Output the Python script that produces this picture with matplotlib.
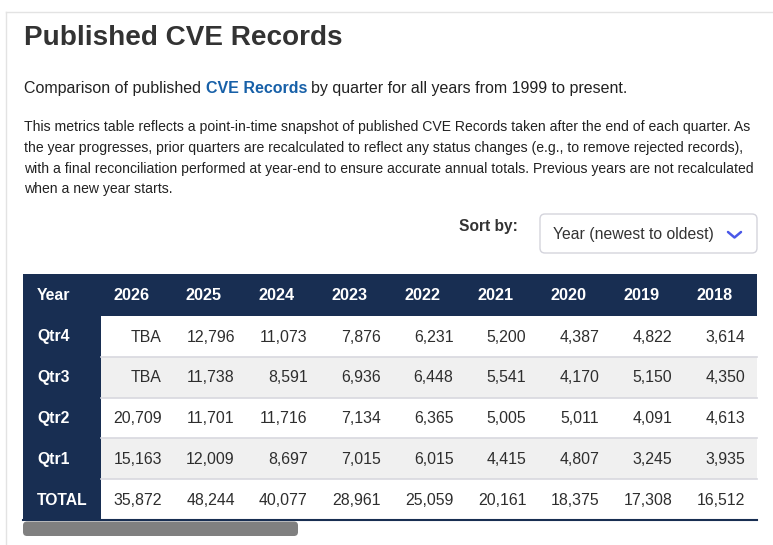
import matplotlib
matplotlib.use("Agg")
import matplotlib.pyplot as plt
from matplotlib.patches import Rectangle, FancyBboxPatch
from matplotlib.lines import Line2D

plt.rcParams['font.family'] = ['Liberation Sans', 'DejaVu Sans']

# ---------------- data ----------------
title = "Published CVE Records"
years = ['2026', '2025', '2024', '2023', '2022', '2021', '2020', '2019', '2018']
row_labels = ['Qtr4', 'Qtr3', 'Qtr2', 'Qtr1', 'TOTAL']
qtr4 = [None, 12796, 11073, 7876, 6231, 5200, 4387, 4822, 3614]
qtr3 = [None, 11738, 8591, 6936, 6448, 5541, 4170, 5150, 4350]
qtr2 = [20709, 11701, 11716, 7134, 6365, 5005, 5011, 4091, 4613]
qtr1 = [15163, 12009, 8697, 7015, 6015, 4415, 4807, 3245, 3935]
total = [35872, 48244, 40077, 28961, 25059, 20161, 18375, 17308, 16512]
para_lines = [
    "This metrics table reflects a point-in-time snapshot of published CVE Records taken after the end of each quarter. As",
    "the year progresses, prior quarters are recalculated to reflect any status changes (e.g., to remove rejected records),",
    "with a final reconciliation performed at year-end to ensure accurate annual totals. Previous years are not recalculated",
    "when a new year starts.",
]
sub_parts = ["Comparison of published", "CVE Records", "by quarter for all years from 1999 to present."]
sort_label = "Sort by:"
sort_value = "Year (newest to oldest)"

# ---------------- styles ----------------
W, H = 773, 545
NAVY = '#182e52'
GRAY_ROW = '#f0f0f0'
SEP = '#d8d8df'
TXT = '#2e2e2e'
LINK = '#1760a8'

fig = plt.figure(figsize=(W / 100, H / 100), dpi=100)
ax = fig.add_axes([0, 0, 1, 1])
ax.set_xlim(0, W)
ax.set_ylim(H, 0)
ax.axis('off')

# page border
ax.add_line(Line2D([6, W], [11.5, 11.5], color='#e3e3e3', lw=1))
ax.add_line(Line2D([6, 6], [11.5, H], color='#e3e3e3', lw=1))

# title
ax.text(24, 45, title, fontsize=20.1, fontweight='bold', color='#333333', va='baseline', ha='left')

# subtitle with bold link
renderer = fig.canvas.get_renderer()
def px_width(s, **kw):
    t = ax.text(0, 0, s, **kw)
    w = t.get_window_extent(renderer).width
    t.remove()
    return w
sub_fs = 11.5
sp = px_width("x x", fontsize=sub_fs) - px_width("xx", fontsize=sub_fs)
x = 24
y_sub = 93
styles = [dict(color='#222222'), dict(color=LINK, fontweight='bold'), dict(color='#222222')]
for part, st in zip(sub_parts, styles):
    ax.text(x, y_sub, part, fontsize=sub_fs, va='baseline', ha='left', **st)
    x += px_width(part, fontsize=sub_fs, **st) + sp

# paragraph
for i, line in enumerate(para_lines):
    ax.text(24, 131.5 + i * 20.5, line, fontsize=10.05, color='#222222', va='baseline', ha='left')

# sort by
ax.text(518, 230.5, sort_label, fontsize=11.2, fontweight='bold', color='#333333', va='baseline', ha='right')
ax.add_patch(FancyBboxPatch((540, 214), 217, 39, boxstyle='round,pad=0,rounding_size=5',
                            fc='white', ec='#d4d4dc', lw=1))
ax.text(553, 239, sort_value, fontsize=11.3, color='#333333', va='baseline', ha='left')
ax.add_line(Line2D([728, 734.5, 741], [232, 237.5, 232], color='#4a58e8', lw=1.8,
                   solid_capstyle='round', solid_joinstyle='round'))

# ---------------- table ----------------
tx0, tx1 = 23, 757
c0 = 101
ncol = len(years)
cw = (tx1 - c0) / ncol
head_top, head_bot = 274, 316
rh = (520 - head_bot) / len(row_labels)
rows = [qtr4, qtr3, qtr2, qtr1, total]

# header band
ax.add_patch(Rectangle((tx0, head_top), tx1 - tx0, head_bot - head_top, fc=NAVY, ec='none'))
ax.text(tx0 + 14, head_top + 26, 'Year', fontsize=11.4, fontweight='bold', color='white', va='baseline')
for j, yr in enumerate(years):
    ax.text(c0 + j * cw + 12, head_top + 26, yr, fontsize=11.7, fontweight='bold', color='white', va='baseline')

for i, (lab, vals) in enumerate(zip(row_labels, rows)):
    top = head_bot + i * rh
    ax.add_patch(Rectangle((c0, top), tx1 - c0, rh, fc=(GRAY_ROW if i % 2 == 1 else 'white'), ec='none'))
    ax.add_patch(Rectangle((tx0, top), c0 - tx0, rh, fc=NAVY, ec='none'))
    if i > 0:
        ax.add_line(Line2D([c0, tx1], [top, top], color=SEP, lw=1.2))
    ax.text(tx0 + 14, top + 25.5, lab, fontsize=11.3, fontweight='bold', color='white', va='baseline')
    for j, v in enumerate(vals):
        s = 'TBA' if v is None else f"{v:,}"
        ax.text(c0 + (j + 1) * cw - 12, top + 25.5, s, fontsize=11.4, color=TXT, va='baseline', ha='right')

ax.add_line(Line2D([tx0, tx1], [520, 520], color=NAVY, lw=1.5))

# scrollbar
ax.add_patch(FancyBboxPatch((23, 521.5), 275, 14.5, boxstyle='round,pad=0,rounding_size=4',
                            fc='#808080', ec='none'))

fig.savefig('out.png', dpi=100, facecolor='white')
